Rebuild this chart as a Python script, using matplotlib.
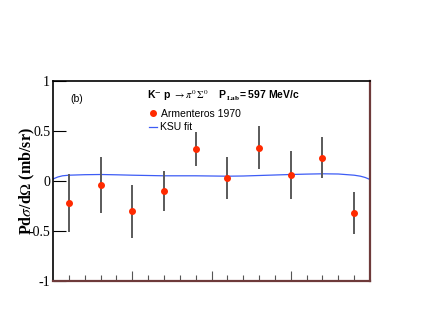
import matplotlib
matplotlib.use("Agg")
import matplotlib.pyplot as plt
import numpy as np

plt.rcParams['mathtext.fontset'] = 'stix'

# Data
cos_theta = [-0.9, -0.7, -0.5, -0.3, -0.1, 0.1, 0.3, 0.5, 0.7, 0.9]
p_dsig = [-0.22, -0.035, -0.30, -0.095, 0.325, 0.03, 0.335, 0.065, 0.235, -0.315]
p_err = [0.29, 0.28, 0.265, 0.20, 0.17, 0.21, 0.215, 0.24, 0.205, 0.21]

fit_x = [-1.0, -0.97, -0.94, -0.9, -0.8, -0.7, -0.6, -0.5, -0.4, -0.3, -0.2, -0.1,
         0.0, 0.1, 0.2, 0.3, 0.4, 0.5, 0.6, 0.7, 0.8, 0.9, 0.94, 0.97, 1.0]
fit_y = [0.02, 0.040, 0.052, 0.058, 0.063, 0.065, 0.062, 0.058, 0.055, 0.052, 0.052, 0.052,
         0.050, 0.048, 0.050, 0.055, 0.060, 0.065, 0.069, 0.072, 0.070, 0.058, 0.048, 0.035, 0.015]

yticks = [-1, -0.5, 0, 0.5, 1]
yticklabels = ['-1', '-0.5', '0', '0.5', '1']

fig = plt.figure(figsize=(4.24, 3.27), dpi=100)
ax = fig.add_axes([53/424, 1-281/327, (370-53)/424, (281-81)/327])

ax.plot(fit_x, fit_y, color='#3d5cf5', lw=0.9, zorder=2)
ax.errorbar(cos_theta, p_dsig, yerr=p_err, fmt='none', ecolor='#5a5a5a', elinewidth=1.4, capsize=0, zorder=3)
ax.plot(cos_theta, p_dsig, 'o', color='#ff2a00', markersize=4, zorder=4)

ax.set_xlim(-1, 1)
ax.set_ylim(-1, 1)

ax.set_xticks([-0.5, 0, 0.5])
ax.set_xticks(np.arange(-0.9, 0.95, 0.1), minor=True)
ax.set_xticklabels([])
ax.tick_params(axis='x', which='major', direction='in', length=7, width=0.8, color='#555555')
ax.tick_params(axis='x', which='minor', direction='in', length=4, width=0.8, color='#555555')

ax.set_yticks(yticks)
ax.set_yticklabels(yticklabels, family='Liberation Serif', fontsize=10)
ax.tick_params(axis='y', which='major', direction='in', length=9, width=0.8, pad=2)
ax.tick_params(axis='y', which='minor', left=False)

for s in ['left', 'top']:
    ax.spines[s].set_color('black')
    ax.spines[s].set_linewidth(1.2)
for s in ['bottom', 'right']:
    ax.spines[s].set_color('#6e3a3a')
    ax.spines[s].set_linewidth(1.6)

ax.set_ylabel(r'Pd$\sigma$/d$\Omega$ (mb/sr)', family='Liberation Serif', fontweight='bold',
              fontsize=11.5, labelpad=-6)

# annotations
fig.text(70/424, 1-99/327, '(b)', family='Liberation Sans', fontsize=7.5, va='center', ha='left')
fig.text(147/424, 1-96/327,
         r'K$^{\mathbf{-}}$ p $\rightarrow \pi^{0}\,\Sigma^{0}$    P$_{\mathbf{Lab}}$= 597 MeV/c',
         family='Liberation Sans', fontweight='bold', fontsize=7.5, va='center', ha='left')

# legend
fig.lines.append(plt.Line2D([153/424], [1-113/327], marker='o', color='#ff2a00', markersize=4,
                            linestyle='none', transform=fig.transFigure))
fig.text(161/424, 1-114/327, 'Armenteros 1970', family='Liberation Sans', fontsize=7.5,
         va='center', ha='left')
fig.lines.append(plt.Line2D([149/424, 157/424], [1-127/327, 1-127/327], color='#3d5cf5', lw=0.9,
                            transform=fig.transFigure))
fig.text(160/424, 1-127/327, 'KSU fit', family='Liberation Sans', fontsize=7.5,
         va='center', ha='left')

fig.savefig('out.png', dpi=100)
